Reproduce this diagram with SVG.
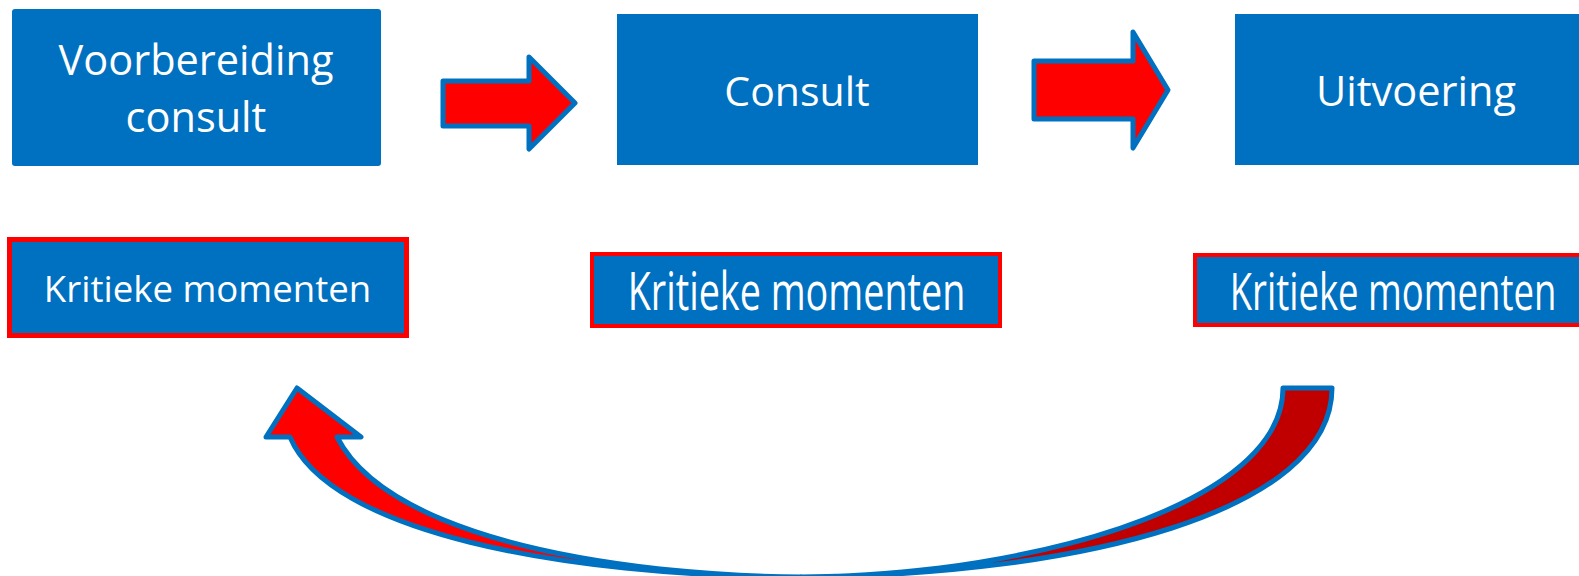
<svg xmlns="http://www.w3.org/2000/svg" width="1579" height="576" viewBox="0 0 1579 576">
<style>
.box{fill:#0070C0;}
.krit{fill:#0070C0;stroke:#FF0000;}
.lbl{font-family:"Open Sans","Noto Sans","Liberation Sans",sans-serif;fill:#FFFFFF;}
.arr{stroke:#0070C0;stroke-width:5;stroke-linejoin:round;}
</style>
<rect width="1579" height="576" fill="#FFFFFF"/>
<g id="connectors">
<path id="arrow1" class="arr" fill="#FF0000" d="M443,81 L529,81 L529,57 L575,103 L529,149 L529,126 L443,126 Z"/>
<path id="arrow2" class="arr" fill="#FF0000" d="M1034,61 L1133,61 L1133,32 L1168,90 L1133,148 L1133,119 L1034,119 Z"/>
<g id="curved-arrow">
<path class="arr" fill="#C00000" d="M801,577 C1080,575 1332,512 1332,388 L1283,388 C1283,482 1120,545 940,568 C880,575 840,577 801,577 Z"/>
<path class="arr" fill="#FF0000" d="M801,577 C560,576 330,532 290,437 L266,437 L297,388 L361,437 L337,437 C370,502 480,549 660,569 C720,575 760,577 801,577 Z"/>
</g>
</g>
<g id="node-voorbereiding">
<rect class="box" x="12" y="9" width="369" height="157" rx="3"/>
<text class="lbl" x="196" y="75" font-size="41.5" text-anchor="middle">Voorbereiding</text>
<text class="lbl" x="196" y="132" font-size="41.5" text-anchor="middle">consult</text>
</g>
<g id="node-consult">
<rect class="box" x="617" y="14" width="361" height="151"/>
<text class="lbl" x="797" y="106" font-size="41" text-anchor="middle">Consult</text>
</g>
<g id="node-uitvoering">
<rect class="box" x="1235" y="14" width="350" height="151"/>
<text class="lbl" x="1416" y="106" font-size="41.5" text-anchor="middle">Uitvoering</text>
</g>
<g id="node-kritiek1">
<rect class="krit" x="9.5" y="239.5" width="397" height="96" stroke-width="5"/>
<text class="lbl" x="207.5" y="302" font-size="36.6" text-anchor="middle">Kritieke momenten</text>
</g>
<g id="node-kritiek2">
<rect class="krit" x="592" y="254" width="408" height="72" stroke-width="4"/>
<text class="lbl" transform="translate(796.5,310) scale(0.712,1)" x="0" y="0" font-size="53" text-anchor="middle">Kritieke momenten</text>
</g>
<g id="node-kritiek3">
<rect class="krit" x="1195" y="255" width="400" height="70" stroke-width="4"/>
<text class="lbl" transform="translate(1393,310) scale(0.702,1)" x="0" y="0" font-size="52" text-anchor="middle">Kritieke momenten</text>
</g>
</svg>
